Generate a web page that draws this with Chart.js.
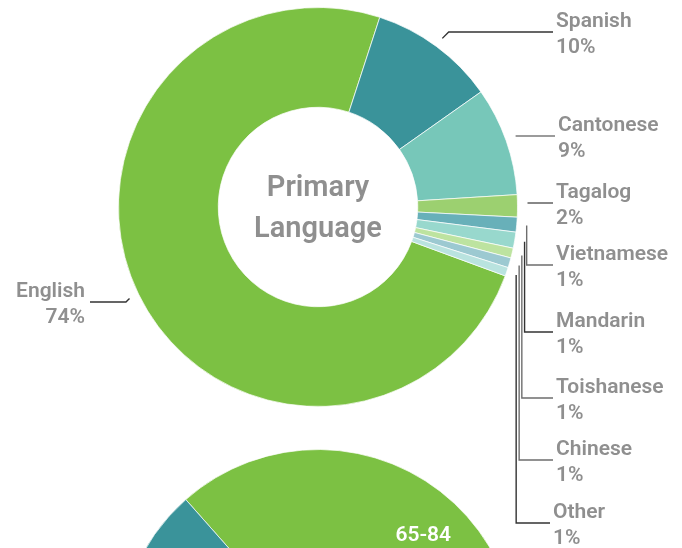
<!DOCTYPE html>
<html>
<head>
<meta charset="utf-8">
<script src="https://cdn.jsdelivr.net/npm/chart.js@4/dist/chart.umd.min.js"></script>
<style>
  html, body { margin: 0; padding: 0; background: #ffffff; }
  body { width: 682px; height: 548px; overflow: hidden; position: relative; }
  canvas { position: absolute; left: 0; }
  #c2 { top: 442px; }
  #c1 { top: 0; }
</style>
</head>
<body>
<canvas id="c2" width="682" height="414"></canvas>
<canvas id="c1" width="682" height="548"></canvas>
<script>
// ---- Data: primary language ----
const languages = ["English", "Spanish", "Cantonese", "Tagalog", "Vietnamese", "Mandarin", "Toishanese", "Chinese", "Other"];
const languageShare = [74.4, 10.2, 8.8, 1.8, 1.2, 1.3, 0.8, 0.8, 0.7];
const languageColors = ["#7CC143", "#3A939A", "#77C7B9", "#9CD070", "#68B0B9", "#98D8CD", "#BDE3A0", "#9CC9D1", "#B9E3DF"];

// ---- Data: age group (second chart, partly visible) ----
const ageGroups = ["65-84", "Under 65", "85+"];
const ageShare = [47, 38, 15];
const ageColors = ["#7CC143", "#77C7B9", "#3A939A"];

// ---- Label layout (leader line y per category, side) ----
const labelLineY = [302, 32, 136, 203, 265, 332, 398, 460, 523];
const labelTextX = [85, 556, 558, 556, 556, 556, 556, 556, 553];
const labelSide  = ["left", "right", "right", "right", "right", "right", "right", "right", "right"];
const lineColors = ["#333", "#333", "#7a7a7a", "#555", "#6e6e6e", "#333", "#6e6e6e", "#6e6e6e", "#333"];

const TEXT_GRAY = "#8f8f8f";
const FONT = "Roboto, 'Open Sans', sans-serif";

const leaderLabels = {
  id: "leaderLabels",
  afterDatasetsDraw(chart) {
    const ctx = chart.ctx;
    const meta = chart.getDatasetMeta(0);
    const vals = chart.data.datasets[0].data;
    ctx.save();
    meta.data.forEach((arc, i) => {
      const p = arc.getProps(["x", "y", "startAngle", "endAngle", "outerRadius"], true);
      const mid = (p.startAngle + p.endAngle) / 2;
      const r = p.outerRadius + 10;
      const ax = p.x + Math.cos(mid) * r;
      const ay = p.y + Math.sin(mid) * r;
      const ly = labelLineY[i];
      const side = labelSide[i];
      const dir = side === "right" ? 1 : -1;
      const dy = ly - ay;
      let ex;
      if (Math.abs(dy) < 3) ex = ax;
      else if (Math.abs(dy) < 10) ex = ax + dir * Math.abs(dy);
      else ex = ax;
      const sy = Math.abs(dy) < 3 ? ly : ay;
      const tx = labelTextX[i];
      const endX = side === "right" ? tx - 3 : tx + 5;
      ctx.beginPath();
      ctx.strokeStyle = lineColors[i];
      ctx.lineWidth = 1.4;
      ctx.moveTo(ax, sy);
      ctx.lineTo(ex, ly);
      ctx.lineTo(endX, ly);
      ctx.stroke();

      ctx.fillStyle = TEXT_GRAY;
      ctx.font = "600 21px " + FONT;
      ctx.textAlign = side === "right" ? "left" : "right";
      ctx.textBaseline = "alphabetic";
      ctx.fillText(chart.data.labels[i], tx, ly - 5);
      ctx.fillText(Math.round(vals[i]) + "%", tx, ly + 21);
    });
    // center text
    const a0 = meta.data[0];
    ctx.fillStyle = "#8f8f8f";
    ctx.font = "600 29px " + FONT;
    ctx.textAlign = "center";
    ctx.fillText("Primary", a0.x, a0.y - 11);
    ctx.fillText("Language", a0.x, a0.y + 30);
    ctx.restore();
  }
};

const innerLabel = {
  id: "innerLabel",
  afterDatasetsDraw(chart) {
    const ctx = chart.ctx;
    const meta = chart.getDatasetMeta(0);
    const arc = meta.data[0];
    const pos = arc.tooltipPosition(true);
    ctx.save();
    ctx.fillStyle = "#ffffff";
    ctx.font = "600 21px " + FONT;
    ctx.textAlign = "center";
    ctx.textBaseline = "middle";
    ctx.fillText(chart.data.labels[0], pos.x + 3, pos.y - 4);
    ctx.restore();
  }
};

const commonOpts = {
  responsive: false,
  animation: false,
  devicePixelRatio: 1,
  cutout: "50%",
  events: [],
  plugins: { legend: { display: false }, tooltip: { enabled: false } },
};

new Chart(document.getElementById("c1"), {
  type: "doughnut",
  data: {
    labels: languages,
    datasets: [{ data: languageShare, backgroundColor: languageColors, borderColor: "rgba(255,255,255,0.7)", borderWidth: 1 }]
  },
  options: Object.assign({}, commonOpts, {
    rotation: 110.2,
    layout: { padding: { left: 118, right: 164, top: 7, bottom: 141 } }
  }),
  plugins: [leaderLabels]
});

new Chart(document.getElementById("c2"), {
  type: "doughnut",
  data: {
    labels: ageGroups,
    datasets: [{ data: ageShare, backgroundColor: ageColors, borderColor: "rgba(255,255,255,0.7)", borderWidth: 1 }]
  },
  options: Object.assign({}, commonOpts, {
    rotation: -41.5,
    layout: { padding: { left: 118, right: 164, top: 7, bottom: 7 } }
  }),
  plugins: [innerLabel]
});
</script>
</body>
</html>
